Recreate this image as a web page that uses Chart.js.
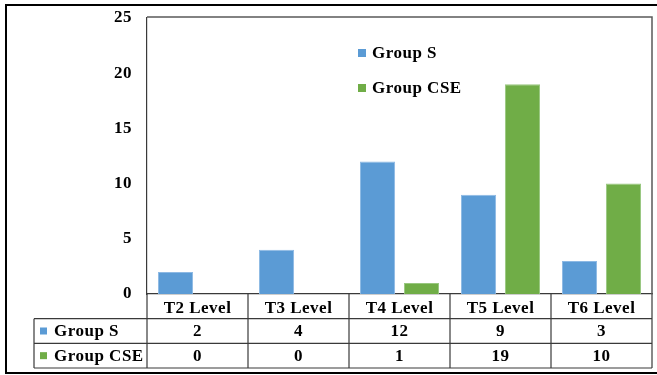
<!DOCTYPE html>
<html>
<head>
<meta charset="utf-8">
<script src="https://cdn.jsdelivr.net/npm/chart.js@4"></script>
<style>
  html, body { margin: 0; padding: 0; background: #fff; }
  canvas { display: block; }
</style>
</head>
<body>
<canvas id="levelChart" width="657" height="375"></canvas>
<script>
// Levels and counts per group
const categories = ['T2 Level', 'T3 Level', 'T4 Level', 'T5 Level', 'T6 Level'];
const groupS = [2, 4, 12, 9, 3];
const groupCSE = [0, 0, 1, 19, 10];
const seriesNames = ['Group S', 'Group CSE'];
const yMax = 25;
const yStep = 5;

const blue = '#5B9BD5';
const green = '#70AD47';
const font = 'bold 17px "Liberation Serif", "Times New Roman", serif';

// Frame, plot border, data table and inner legend
const tablePlugin = {
  id: 'dataTable',
  beforeDraw(chart) {
    chart.ctx.letterSpacing = '0.5px';
  },
  afterDraw(chart) {
    const ctx = chart.ctx;
    const area = chart.chartArea;
    const x = chart.scales.x;
    const colW = x.width / categories.length;
    const rowH = (x.bottom - x.top) / 3;
    const tableLeft = 34;

    ctx.save();

    // outer frame
    ctx.strokeStyle = '#000';
    ctx.lineWidth = 2;
    ctx.beginPath();
    ctx.moveTo(chart.width, 5);
    ctx.lineTo(6, 5);
    ctx.lineTo(6, 373);
    ctx.lineTo(chart.width, 373);
    ctx.stroke();

    // plot area top and right edges
    ctx.strokeStyle = '#595959';
    ctx.lineWidth = 1.5;
    ctx.beginPath();
    ctx.moveTo(area.left, area.top - 1);
    ctx.lineTo(area.right, area.top - 1);
    ctx.lineTo(area.right, area.bottom);
    ctx.stroke();

    // table grid
    ctx.strokeStyle = '#3a3a3a';
    ctx.lineWidth = 1.2;
    ctx.beginPath();
    for (let r = 1; r <= 3; r++) {
      const y = x.top + rowH * r;
      ctx.moveTo(tableLeft, y);
      ctx.lineTo(area.right, y);
    }
    ctx.moveTo(tableLeft, x.top + rowH);
    ctx.lineTo(tableLeft, x.bottom);
    for (let i = 0; i <= categories.length; i++) {
      const lx = area.left + colW * i;
      ctx.moveTo(lx, x.top);
      ctx.lineTo(lx, x.bottom);
    }
    ctx.stroke();

    // table rows
    ctx.font = font;
    ctx.fillStyle = '#000';
    ctx.textBaseline = 'middle';
    const rows = [groupS, groupCSE];
    const colors = [blue, green];
    rows.forEach((vals, r) => {
      const cy = x.top + rowH * (r + 1.5);
      ctx.fillStyle = colors[r];
      ctx.fillRect(40, cy - 3.5, 7, 7);
      ctx.fillStyle = '#000';
      ctx.textAlign = 'left';
      ctx.fillText(seriesNames[r], 54, cy + 1);
      ctx.textAlign = 'center';
      vals.forEach((v, i) => {
        ctx.fillText(String(v), x.getPixelForValue(i), cy + 1);
      });
    });

    // legend inside the plot
    ctx.textAlign = 'left';
    seriesNames.forEach((name, r) => {
      const cy = 53 + r * 35;
      ctx.fillStyle = colors[r];
      ctx.fillRect(358, cy - 4, 8, 8);
      ctx.fillStyle = '#000';
      ctx.fillText(name, 372, cy + 1);
    });

    ctx.restore();
  }
};

const ctx = document.getElementById('levelChart').getContext('2d');
new Chart(ctx, {
  type: 'bar',
  data: {
    labels: categories,
    datasets: [
      {
        label: seriesNames[0],
        data: groupS,
        backgroundColor: blue,
        borderColor: '#8DB9E4',
        borderWidth: c => (c.raw > 0 ? 1 : 0)
      },
      {
        label: seriesNames[1],
        data: groupCSE,
        backgroundColor: green,
        borderColor: '#98C77F',
        borderWidth: c => (c.raw > 0 ? 1 : 0)
      }
    ]
  },
  options: {
    responsive: false,
    animation: false,
    devicePixelRatio: 1,
    layout: { padding: { top: 18, right: 5, bottom: 7, left: 0 } },
    categoryPercentage: 0.87,
    barPercentage: 0.8,
    plugins: {
      legend: { display: false },
      tooltip: { enabled: false }
    },
    scales: {
      x: {
        grid: { display: false, drawTicks: false },
        border: { display: true, color: '#3a3a3a', width: 1.2 },
        ticks: {
          color: '#000',
          font: { family: '"Liberation Serif", "Times New Roman", serif', size: 17, weight: 'bold' },
          padding: 4,
          maxRotation: 0
        },
        afterFit: s => { s.height = 74; }
      },
      y: {
        min: 0,
        max: yMax,
        grid: { display: false, drawTicks: false },
        border: { display: true, color: '#3a3a3a', width: 1.2 },
        ticks: {
          stepSize: yStep,
          color: '#000',
          font: { family: '"Liberation Serif", "Times New Roman", serif', size: 17, weight: 'bold' },
          padding: 15
        },
        afterFit: s => {
          s.width = 147;
          s.paddingTop = 0;
          s.paddingBottom = 0;
        }
      }
    }
  },
  plugins: [tablePlugin]
});
</script>
</body>
</html>
